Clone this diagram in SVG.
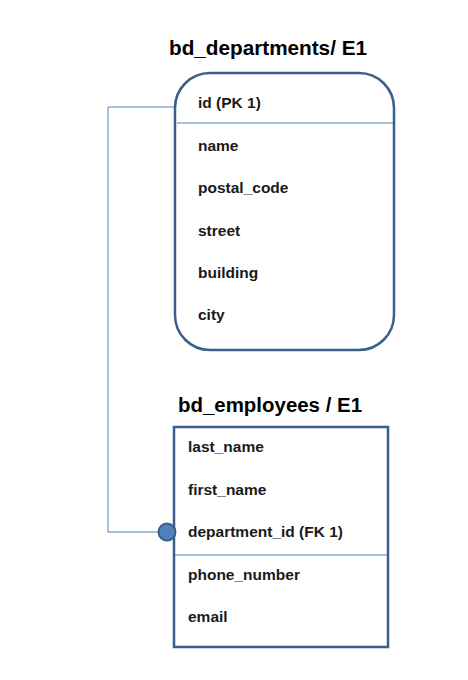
<svg xmlns="http://www.w3.org/2000/svg" width="468" height="680" viewBox="0 0 468 680">
<style>
.box{fill:#ffffff;stroke:#3a5f8b;stroke-width:2.5}
.sep{stroke:#4f81bd;stroke-width:1}
.title{font-family:"Liberation Sans",Arial,sans-serif;font-size:20px;font-weight:bold;fill:#000}
.f{font-family:"Liberation Sans",Arial,sans-serif;font-size:15.5px;font-weight:bold;fill:#1a1a1a}
.conn{fill:none;stroke:#4f81bd;stroke-width:1}
</style>
<rect width="468" height="680" fill="#ffffff"/>
<g id="connectors">
<polyline class="conn" points="176,107 108,107 108,532 160,532"/>
</g>
<g id="bd_departments">
<text class="title" x="169" y="55" textLength="198" lengthAdjust="spacingAndGlyphs">bd_departments/ E1</text>
<rect class="box" x="175" y="73" width="219" height="277" rx="35" ry="35"/>
<line class="sep" x1="177" y1="123" x2="393" y2="123"/>
<text class="f" x="198" y="108">id (PK 1)</text>
<text class="f" x="198" y="151">name</text>
<text class="f" x="198" y="193">postal_code</text>
<text class="f" x="198" y="236">street</text>
<text class="f" x="198" y="278">building</text>
<text class="f" x="198" y="320">city</text>
</g>
<g id="bd_employees">
<text class="title" x="178" y="412" textLength="184" lengthAdjust="spacingAndGlyphs">bd_employees / E1</text>
<rect class="box" x="174" y="427" width="214" height="220"/>
<line class="sep" x1="175" y1="555" x2="387" y2="555"/>
<text class="f" x="188" y="452">last_name</text>
<text class="f" x="188" y="495">first_name</text>
<text class="f" x="188" y="537">department_id (FK 1)</text>
<text class="f" x="188" y="580">phone_number</text>
<text class="f" x="188" y="622">email</text>
<circle cx="167" cy="532" r="8.5" fill="#4f81bd" stroke="#385d8a" stroke-width="2"/>
</g>
</svg>
